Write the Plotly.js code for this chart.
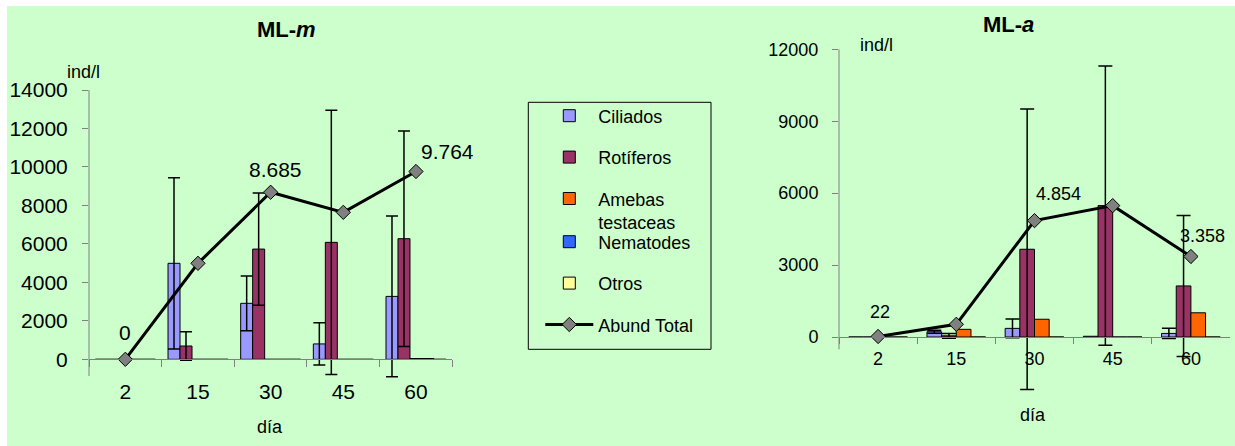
<!DOCTYPE html>
<html><head><meta charset="utf-8">
<script src="https://cdn.plot.ly/plotly-3.0.1.min.js"></script>
<style>html,body{margin:0;padding:0;background:#fff;overflow:hidden}</style>
</head><body><div id="chart" style="width:1235px;height:446px"></div>
<script>
// ---------- data ----------
const dias = ['2', '15', '30', '45', '60'];
const seriesNames = ['Ciliados', 'Rotíferos', 'Amebas<br>testaceas', 'Nematodes', 'Otros'];
const totalName = 'Abund Total';

// ML-m
const mlmCiliados      = [0, 4990, 2910, 800, 3270];
const mlmCiliadosErr   = [null, 4450, 1420, 1100, 4180];
const mlmRotiferos     = [0, 690, 5730, 6080, 6270];
const mlmRotiferosErr  = [null, 745, 2920, 6870, 5600];
const mlmAmebas        = [0, 0, 0, 0, 40];
const mlmNematodes     = [0, 0, 0, 0, 40];
const mlmOtros         = [0, 0, 0, 0, 0];
const mlmTotal         = [0, 4990, 8685, 7640, 9764];
const mlmTotalLabels   = ['0', '', '8.685', '', '9.764'];
const mlmYTicks        = [0, 2000, 4000, 6000, 8000, 10000, 12000, 14000];

// ML-a
const mlaCiliados      = [0, 220, 360, 30, 150];
const mlaCiliadosErr   = [null, 60, 390, null, 210];
const mlaRotiferos     = [0, 50, 3660, 5480, 2130];
const mlaRotiferosErr  = [null, 100, 5850, 5820, 2940];
const mlaAmebas        = [0, 320, 740, 0, 1010];
const mlaNematodes     = [0, 0, 0, 0, 0];
const mlaTotal         = [22, 530, 4854, 5480, 3358];
const mlaTotalLabels   = ['22', '', '4.854', '', '3.358'];
const mlaYTicks        = [0, 3000, 6000, 9000, 12000];

// ---------- styles ----------
const W = 1235, H = 446;
const colors = ['#9999FF', '#993366', '#FF6600', '#3366FF', '#FFFF99'];
const FONT = '"Liberation Sans", Arial, Helvetica, sans-serif';
const AXC = '#808080';
const px = v => v / W;
const py = v => 1 - v / H;
const toErr = a => a.map(v => (v === null ? NaN : v));

function bar(name, ci, y, err, xa, ya, idx, n, w, showleg, legendId, capw) {
  const t = {
    type: 'bar', name: name, x: dias, y: y, xaxis: xa, yaxis: ya,
    offset: -n * w / 2 + idx * w, width: w,
    marker: {color: colors[ci], line: {color: '#000', width: 1}},
    showlegend: showleg, legendgroup: 'g' + ci, cliponaxis: false,
    hoverinfo: 'skip'
  };
  if (legendId) t.legend = legendId;
  if (err) t.error_y = {type: 'data', array: toErr(err), symmetric: true, visible: true,
                        color: '#000', thickness: 1.5, width: capw};
  return t;
}
function line(y, xa, ya, showleg) {
  return {
    type: 'scatter', mode: 'lines+markers', name: totalName, x: dias, y: y,
    xaxis: xa, yaxis: ya, cliponaxis: false, showlegend: showleg,
    legend: 'legend2', legendgroup: 'gt',
    line: {color: '#000', width: 3},
    marker: {symbol: 'diamond', size: 11, color: '#808080', line: {color: '#000', width: 1}},
    hoverinfo: 'skip'
  };
}

const wL = 0.165, wR = 0.1876;
const traces = [
  bar(seriesNames[0], 0, mlmCiliados,  mlmCiliadosErr,  'x', 'y', 0, 5, wL, true, 'legend', 6),
  bar(seriesNames[1], 1, mlmRotiferos, mlmRotiferosErr, 'x', 'y', 1, 5, wL, true, 'legend', 6),
  bar(seriesNames[2], 2, mlmAmebas,    null,            'x', 'y', 2, 5, wL, true, 'legend', 6),
  bar(seriesNames[3], 3, mlmNematodes, null,            'x', 'y', 3, 5, wL, true, 'legend2', 6),
  bar(seriesNames[4], 4, mlmOtros,     null,            'x', 'y', 4, 5, wL, true, 'legend2', 6),
  line(mlmTotal, 'x', 'y', true),
  bar(seriesNames[0], 0, mlaCiliados,  mlaCiliadosErr,  'x2', 'y2', 0, 4, wR, false, null, 7),
  bar(seriesNames[1], 1, mlaRotiferos, mlaRotiferosErr, 'x2', 'y2', 1, 4, wR, false, null, 7),
  bar(seriesNames[2], 2, mlaAmebas,    null,            'x2', 'y2', 2, 4, wR, false, null, 7),
  bar(seriesNames[3], 3, mlaNematodes, null,            'x2', 'y2', 3, 4, wR, false, null, 7),
  line(mlaTotal, 'x2', 'y2', false)
];

const axisCommon = {
  linecolor: AXC, linewidth: 1, ticks: 'outside',
  tickcolor: AXC, tickwidth: 1, showgrid: false, zeroline: false, fixedrange: true
};

const annotations = [];
function addLabels(labels, totals, xa, ya, shifts, size) {
  dias.forEach((d, i) => {
    if (!labels[i]) return;
    // category axes: annotation x given as the category index
    annotations.push({x: i, y: totals[i], xref: xa, yref: ya, text: labels[i], showarrow: false,
      xanchor: 'center', yanchor: 'middle', xshift: shifts[i][0], yshift: shifts[i][1],
      font: {size: size, color: '#000'}});
  });
}
addLabels(mlmTotalLabels, mlmTotal, 'x', 'y',
  [[0, 27], [0, 0], [4.6, 23], [0, 0], [31.7, 19.5]], 21);
addLabels(mlaTotalLabels, mlaTotal, 'x2', 'y2',
  [[2.3, 24], [0, 0], [24.3, 26.4], [0, 0], [11.6, 20.7]], 18);

function paperText(text, x, y, size) {
  annotations.push({text: text, x: px(x), y: py(y), xref: 'paper', yref: 'paper',
    showarrow: false, xanchor: 'center', yanchor: 'middle', font: {size: size, color: '#000'}});
}
paperText('<b>ML-<i>m</i></b>', 286.7, 29.3, 22);
paperText('<b>ML-<i>a</i></b>', 1008, 24, 22);
paperText('ind/l', 83.3, 71.7, 18);
paperText('ind/l', 876.7, 45, 18);
paperText('día', 270, 426.7, 18);
paperText('día', 1033.3, 415, 18);

const legendCommon = {
  xanchor: 'left', yanchor: 'top', bgcolor: 'rgba(0,0,0,0)', borderwidth: 0,
  font: {size: 18, color: '#000'}, traceorder: 'grouped', tracegroupgap: 15,
  valign: 'top', itemwidth: 48, itemclick: false, itemdoubleclick: false
};

// y axis ranges: plot areas extend a little below the visible axis line so that
// long error bars are not clipped; the visible axis line is drawn as a shape.
const yLineL = [-868, 14000], yLineR = [-513, 12000];

const layout = {
  width: W, height: H, margin: {l: 0, r: 0, t: 0, b: 0, pad: 0},
  paper_bgcolor: '#CCFFCC', plot_bgcolor: 'rgba(0,0,0,0)',
  font: {family: FONT, color: '#000'},
  barmode: 'group', showlegend: true,
  xaxis: Object.assign({}, axisCommon, {
    showline: true,
    domain: [px(89), px(452.3)], type: 'category', range: [-0.5, 4.5],
    anchor: 'free', position: py(359.3), ticklen: 7, tickson: 'boundaries',
    tickfont: {size: 21}, ticklabelstandoff: 13
  }),
  yaxis: Object.assign({}, axisCommon, {
    showline: false,
    domain: [py(385), py(90)], range: [-1336, 14000], anchor: 'x',
    tickmode: 'array', tickvals: mlmYTicks, tickformat: 'd', ticklen: 6,
    tickfont: {size: 21}, ticklabelstandoff: 10
  }),
  xaxis2: Object.assign({}, axisCommon, {
    showline: true,
    domain: [px(839), px(1230)], type: 'category', range: [-0.5, 4.5],
    anchor: 'free', position: py(337), ticklen: 6, tickson: 'boundaries',
    tickfont: {size: 18}, ticklabelstandoff: 5
  }),
  yaxis2: Object.assign({}, axisCommon, {
    showline: false,
    domain: [py(395), py(49.3)], range: [-2419, 12000], anchor: 'x2',
    tickmode: 'array', tickvals: mlaYTicks, tickformat: 'd', ticklen: 6,
    tickfont: {size: 18}, ticklabelstandoff: 10
  }),
  legend: Object.assign({}, legendCommon, {x: px(540.3), y: py(97.5)}),
  legend2: Object.assign({}, legendCommon, {x: px(540.3), y: py(223.5)}),
  shapes: [
    {type: 'line', xref: 'x domain', yref: 'y', x0: 0, x1: 0, y0: yLineL[0], y1: yLineL[1],
     line: {color: AXC, width: 1}},
    {type: 'line', xref: 'x2 domain', yref: 'y2', x0: 0, x1: 0, y0: yLineR[0], y1: yLineR[1],
     line: {color: AXC, width: 1}},
    {type: 'rect', xref: 'paper', yref: 'paper', x0: px(528.3), x1: px(711), y0: py(349.3), y1: py(102.3),
     line: {color: '#000', width: 1}, fillcolor: 'rgba(0,0,0,0)', layer: 'below'},
    {type: 'rect', xref: 'paper', yref: 'paper', x0: 0, x1: px(7), y0: 0, y1: 1,
     line: {width: 0}, fillcolor: '#FFFFFF', layer: 'below'},
    {type: 'rect', xref: 'paper', yref: 'paper', x0: 0, x1: 1, y0: py(6), y1: 1,
     line: {width: 0}, fillcolor: '#FFFFFF', layer: 'below'}
  ],
  annotations: annotations
};

Plotly.newPlot('chart', traces, layout, {displayModeBar: false, staticPlot: true});
</script>
</body></html>
